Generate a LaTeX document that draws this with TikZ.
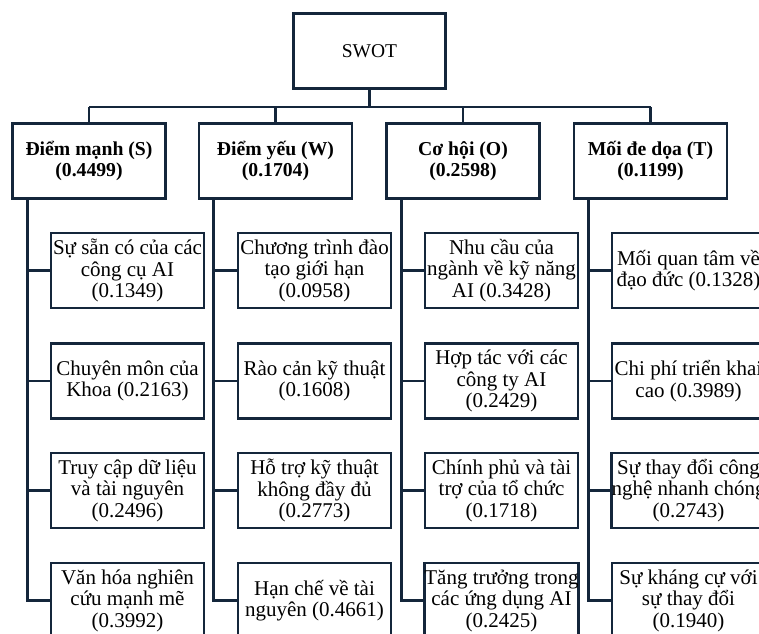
\documentclass[tikz,border=0pt]{standalone}
\usepackage{fontspec}
\setmainfont{Liberation Serif}
\usepackage{tikz}
\usetikzlibrary{positioning,calc}
\definecolor{swline}{HTML}{14263B}

\begin{document}
\begin{tikzpicture}[x=1pt,y=-1pt,
  link/.style={draw=swline,line width=2.8pt,line join=miter},
  root/.style={draw=swline,line width=2.8pt,minimum width=152pt,minimum height=75pt,
               inner sep=0pt,align=center,font=\fontsize{19.5}{21}\selectfont},
  head/.style={draw=swline,line width=2.8pt,minimum width=153pt,minimum height=75pt,
               inner sep=0pt,align=center,font=\fontsize{19.7}{21}\selectfont\bfseries},
  leaf/.style={draw=swline,line width=2.8pt,fill=white,minimum width=153pt,minimum height=75pt,
               inner sep=0pt,align=center,font=\fontsize{21}{21.5}\selectfont}]
\useasboundingbox (0,0) rectangle (759,633);
\clip (0,0) rectangle (759,633);

% ---------------- top: the root and the four factor groups -----------------
\node[root] (swot) at (369.5,51) {SWOT};
\coordinate (bus) at (0,107);

\node[head] (hs) at (89,161)    {Điểm mạnh (S)\\(0.4499)};
\node[head] (hw) at (275.5,161) {Điểm yếu (W)\\(0.1704)};
\node[head] (ho) at (463,161)   {Cơ hội (O)\\(0.2598)};
\node[head] (ht) at (650.5,161) {Mối đe dọa (T)\\(0.1199)};

\draw[link] (swot.south) -- (swot.south |- bus);
\draw[link] (hs.north |- bus) -- (ht.north |- bus);
\draw[link] (hs.north) -- (hs.north |- bus);
\draw[link] (hw.north) -- (hw.north |- bus);
\draw[link] (ho.north) -- (ho.north |- bus);
\draw[link] (ht.north) -- (ht.north |- bus);

% ---------------- strengths ------------------------------------------------
\node[leaf] (s1) at (127.5,270.5) {Sự sẵn có của các\\công cụ AI\\(0.1349)};
\node[leaf] (s2) at (127.5,381)   {Chuyên môn của\\Khoa (0.2163)};
\node[leaf] (s3) at (127.5,490.5) {Truy cập dữ liệu\\và tài nguyên\\(0.2496)};
\node[leaf] (s4) at (127.5,600.5) {Văn hóa nghiên\\cứu mạnh mẽ\\(0.3992)};

% ---------------- weaknesses -----------------------------------------------
\node[leaf] (w1) at (314.5,270.5) {Chương trình đào\\tạo giới hạn\\(0.0958)};
\node[leaf] (w2) at (314.5,381)   {Rào cản kỹ thuật\\(0.1608)};
\node[leaf] (w3) at (314.5,490.5) {Hỗ trợ kỹ thuật\\không đầy đủ\\(0.2773)};
\node[leaf] (w4) at (314.5,600.5) {Hạn chế về tài\\nguyên (0.4661)};

% ---------------- opportunities --------------------------------------------
\node[leaf] (o1) at (501.5,270.5) {Nhu cầu của\\ngành về kỹ năng\\AI (0.3428)};
\node[leaf] (o2) at (501.5,381)   {Hợp tác với các\\công ty AI\\(0.2429)};
\node[leaf] (o3) at (501.5,490.5) {Chính phủ và tài\\trợ của tổ chức\\(0.1718)};
\node[leaf] (o4) at (501.5,600.5) {Tăng trưởng trong\\các ứng dụng AI\\(0.2425)};

% ---------------- threats --------------------------------------------------
\node[leaf] (t1) at (688.5,270.5) {Mối quan tâm về\\đạo đức (0.1328)};
\node[leaf] (t2) at (688.5,381)   {Chi phí triển khai\\cao (0.3989)};
\node[leaf] (t3) at (688.5,490.5) {Sự thay đổi công\\nghệ nhanh chóng\\(0.2743)};
\node[leaf] (t4) at (688.5,600.5) {Sự kháng cự với\\sự thay đổi\\(0.1940)};

% ---------------- spines down each column ----------------------------------
\coordinate (ss) at ([xshift=16pt]hs.south west);
\coordinate (sw) at ([xshift=16pt]hw.south west);
\coordinate (so) at ([xshift=16pt]ho.south west);
\coordinate (st) at ([xshift=16pt]ht.south west);
\draw[link] (ss) |- (s1.west) (ss) |- (s2.west) (ss) |- (s3.west) (ss) |- (s4.west);
\draw[link] (sw) |- (w1.west) (sw) |- (w2.west) (sw) |- (w3.west) (sw) |- (w4.west);
\draw[link] (so) |- (o1.west) (so) |- (o2.west) (so) |- (o3.west) (so) |- (o4.west);
\draw[link] (st) |- (t1.west) (st) |- (t2.west) (st) |- (t3.west) (st) |- (t4.west);

\end{tikzpicture}
\end{document}
